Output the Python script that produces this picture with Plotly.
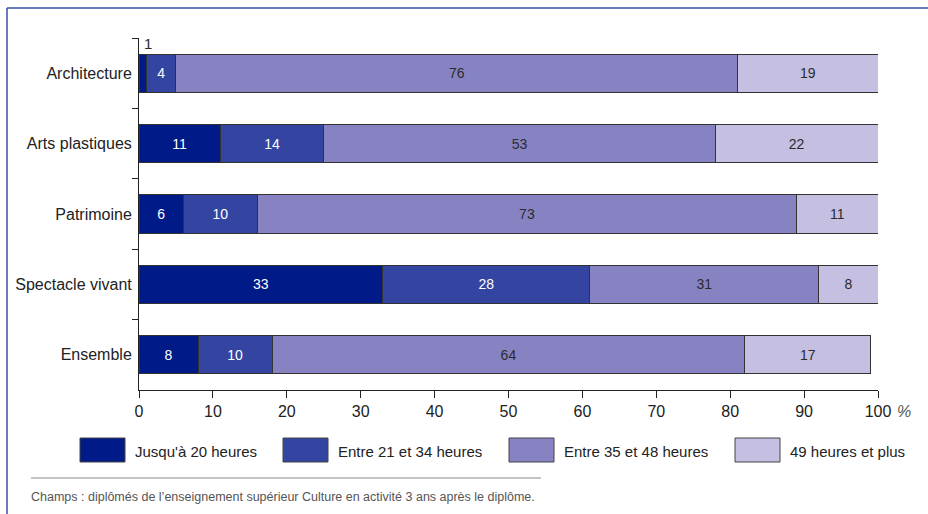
import plotly.graph_objects as go

categories = ["Architecture", "Arts plastiques", "Patrimoine", "Spectacle vivant", "Ensemble"]
series_names = ["Jusqu'à 20 heures", "Entre 21 et 34 heures", "Entre 35 et 48 heures", "49 heures et plus"]
jusqua_20 = [1, 11, 6, 33, 8]
entre_21_34 = [4, 14, 10, 28, 10]
entre_35_48 = [76, 53, 73, 31, 64]
plus_49 = [19, 22, 11, 8, 17]
x_ticks = [0, 10, 20, 30, 40, 50, 60, 70, 80, 90, 100]

series_values = [jusqua_20, entre_21_34, entre_35_48, plus_49]
colors = ["#001a88", "#3445a1", "#8783c3", "#c5bfe2"]
text_colors = ["#ffffff", "#ffffff", "#2b2b2b", "#2b2b2b"]
FONT = "Liberation Sans, Arial, sans-serif"

fig = go.Figure()
for name, vals, col, tcol in zip(series_names, series_values, colors, text_colors):
    # values too narrow to hold a label are written above the bar instead
    labels = [str(v) if v >= 3 else "" for v in vals]
    fig.add_trace(go.Bar(
        y=categories, x=vals, name=name, orientation="h",
        marker=dict(color=col, line=dict(color="#333333", width=1)),
        width=0.54,
        text=labels, textposition="inside", insidetextanchor="middle",
        textangle=0, constraintext="none",
        textfont=dict(family=FONT, size=14, color=tcol),
        showlegend=False, hoverinfo="x+y+name",
    ))

# small value labels placed just above their bar
cum = [0] * len(categories)
for vals in series_values:
    for i, v in enumerate(vals):
        if v < 3:
            fig.add_annotation(x=cum[i] + v / 2 + 0.7, y=categories[i], xref="x", yref="y",
                               text=str(v), showarrow=False, yshift=30,
                               font=dict(family=FONT, size=15, color="#2b2b2b"))
        cum[i] += v

W, H = 928, 514
ml, mr, mt, mb = 139, 50, 38, 124
pw, ph = W - ml - mr, H - mt - mb

def px_x(p):
    return (p - ml) / pw

def px_y(p):
    return 1 - (p - mt) / ph

# legend row under the axis
box_left = [80, 283, 509, 735]
for name, col, bx in zip(series_names, colors, box_left):
    fig.add_shape(type="rect", xref="paper", yref="paper",
                  x0=px_x(bx), x1=px_x(bx + 45), y0=px_y(462), y1=px_y(438),
                  fillcolor=col, line=dict(color="#444444", width=1))
    fig.add_annotation(xref="paper", yref="paper", x=px_x(bx + 53), y=px_y(451),
                       xanchor="left", yanchor="middle", text=name, showarrow=False,
                       font=dict(family=FONT, size=15, color="#222222"))

# percent unit next to the last tick
fig.add_annotation(xref="paper", yref="paper", x=px_x(895), y=px_y(411),
                   xanchor="left", yanchor="middle", text="<i>%</i>", showarrow=False,
                   font=dict(family=FONT, size=16, color="#555555"))

# source note with rule above it
fig.add_shape(type="line", xref="paper", yref="paper",
              x0=px_x(31), x1=px_x(541), y0=px_y(478), y1=px_y(478),
              line=dict(color="#8a8a8a", width=1))
fig.add_annotation(xref="paper", yref="paper", x=px_x(29), y=px_y(497),
                   xanchor="left", yanchor="middle",
                   text="Champs : diplômés de l’enseignement supérieur Culture en activité 3 ans après le diplôme.",
                   showarrow=False, font=dict(family=FONT, size=12.5, color="#555555"))

# blue frame along the top and left edges
fig.add_shape(type="line", xref="paper", yref="paper",
              x0=px_x(7), x1=px_x(928), y0=px_y(8), y1=px_y(8),
              line=dict(color="#3a4fa8", width=1.5))
fig.add_shape(type="line", xref="paper", yref="paper",
              x0=px_x(7), x1=px_x(7), y0=px_y(8), y1=px_y(514),
              line=dict(color="#3a4fa8", width=1.5))

fig.update_layout(
    barmode="stack",
    width=W, height=H,
    margin=dict(l=ml, r=mr, t=mt, b=mb, autoexpand=False),
    paper_bgcolor="white", plot_bgcolor="white",
    font=dict(family=FONT, size=15, color="#222222"),
    xaxis=dict(range=[0, 100], tickvals=x_ticks, ticks="outside", ticklen=7,
               tickcolor="#222222", showline=True, linecolor="#222222", linewidth=1,
               showgrid=False, zeroline=False, fixedrange=True, automargin=False,
               tickfont=dict(family=FONT, size=16, color="#222222")),
    yaxis=dict(categoryorder="array", categoryarray=categories, autorange="reversed",
               tickson="boundaries", ticks="outside", ticklen=6, tickcolor="#222222",
               showline=True, linecolor="#222222", linewidth=1, showgrid=False,
               ticklabelstandoff=3, fixedrange=True, automargin=False,
               tickfont=dict(family=FONT, size=16, color="#222222")),
    showlegend=False,
)

fig.write_html("out.html")
